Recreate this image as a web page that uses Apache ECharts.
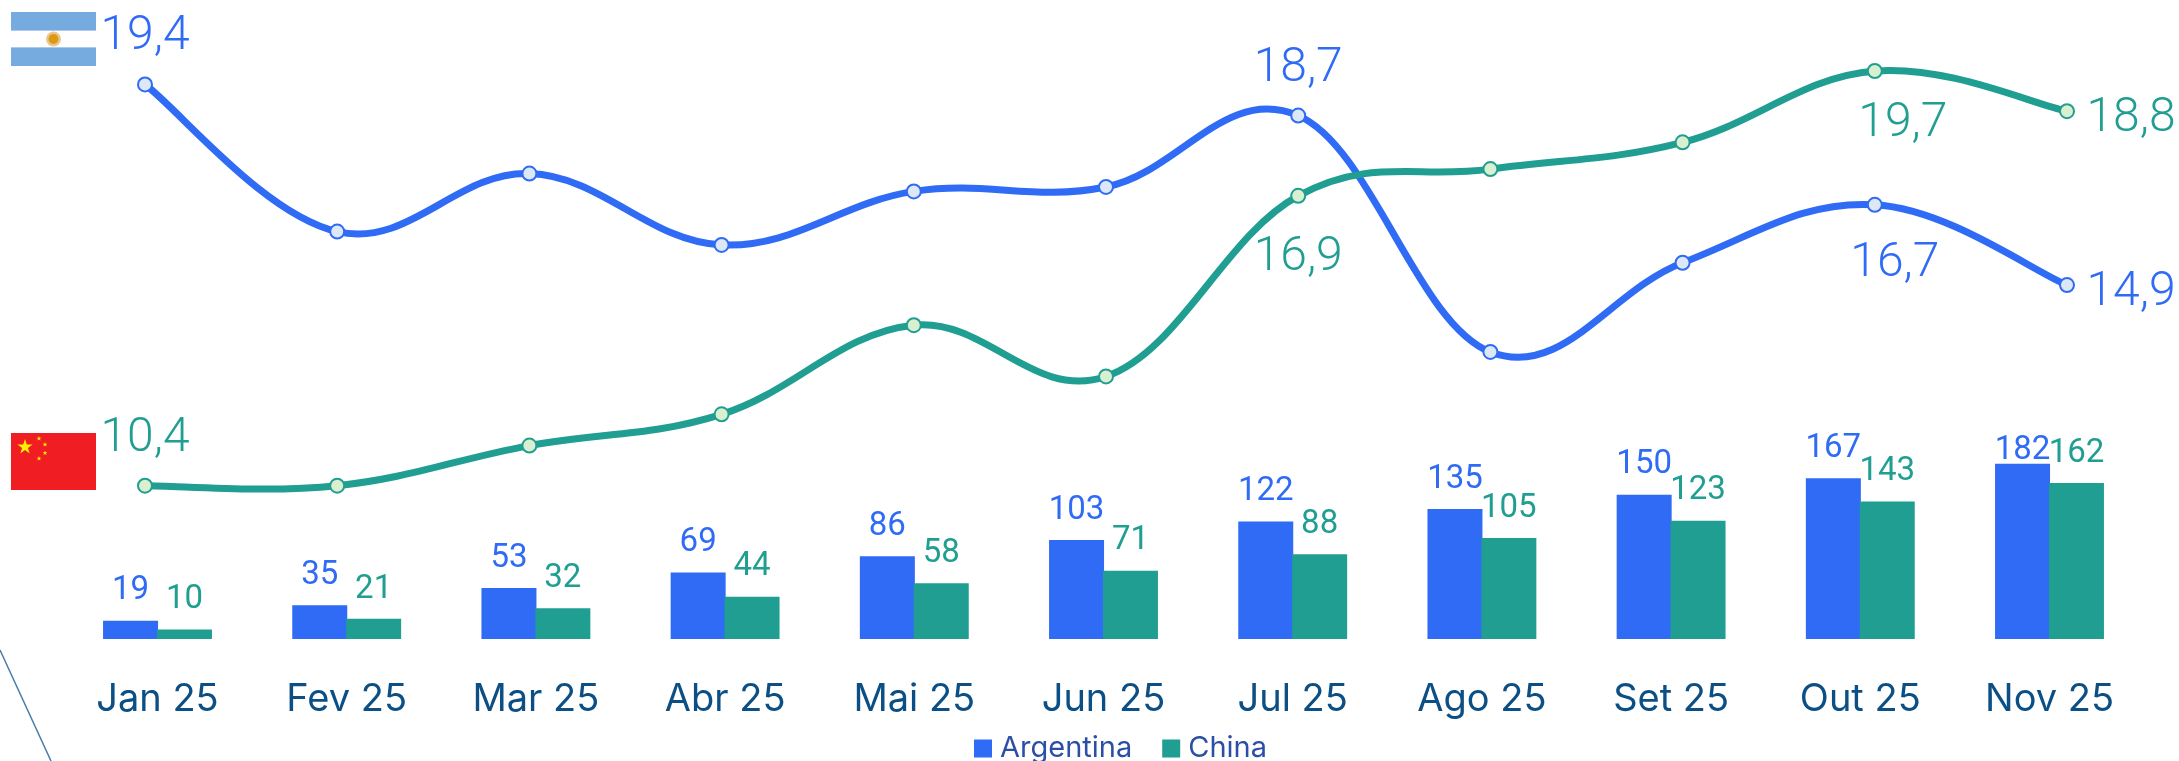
<!DOCTYPE html>
<html>
<head>
<meta charset="utf-8">
<style>html,body{margin:0;padding:0;background:#fff;overflow:hidden}#c{width:2179px;height:761px}</style>
<script src="https://cdn.jsdelivr.net/npm/echarts@6/dist/echarts.min.js"></script>
</head>
<body>
<div id="c"></div>
<script>
const categories = ['Jan 25','Fev 25','Mar 25','Abr 25','Mai 25','Jun 25','Jul 25','Ago 25','Set 25','Out 25','Nov 25'];
const argentinaBars = [19,35,53,69,86,103,122,135,150,167,182];
const chinaBars = [10,21,32,44,58,71,88,105,123,143,162];
const argentinaLine = [19.4,16.1,17.4,15.8,17.0,17.1,18.7,13.4,15.4,16.7,14.9];
const chinaLine = [10.4,10.4,11.3,12.0,14.0,12.85,16.9,17.5,18.1,19.7,18.8];

const BLUE = '#2F6BF5', GREEN = '#209E91';
const TENSION = 0.19;
const argentinaLabelOffsets = {0:[0,-39],6:[0,-39],9:[20,67],10:[64,16]};
const chinaLabelOffsets = {0:[0,-39],6:[0,70],9:[28,61],10:[64,16]};
const barLabelShift = {10:[0,16]};

const fmt = v => v.toFixed(1).replace('.', ',');
function lineData(vals, offsets, color){
  return vals.map((v,i)=> offsets[i] ? {
    value:v,
    label:{show:true,position:'top',distance:0,offset:offsets[i],formatter:()=>fmt(v),
      color,fontFamily:'Roboto',fontWeight:300,fontSize:48,lineHeight:48,align:'center',verticalAlign:'middle'}
  } : v);
}
function star(cx,cy,r,fill){
  const pts=[];
  for(let i=0;i<10;i++){
    const a=-Math.PI/2+i*Math.PI/5, rr=i%2?r*0.382:r;
    pts.push([cx+rr*Math.cos(a),cy+rr*Math.sin(a)]);
  }
  return {type:'polygon',shape:{points:pts},style:{fill},silent:true};
}
const rect=(x,y,w,h,fill)=>({type:'rect',shape:{x,y,width:w,height:h},style:{fill},silent:true});
const circ=(cx,cy,r,fill)=>({type:'circle',shape:{cx,cy,r},style:{fill},silent:true});

const flags=[
  rect(11,12,85,18,'#75ABDF'), rect(11,30,85,1,'#A9CBEC'),
  rect(11,47,85,1,'#A9CBEC'), rect(11,48,85,18,'#75ABDF'),
  circ(53.5,39,7.5,'#EBC68F'), circ(53.5,39,5,'#DB9A14'),
  rect(11,433,85,57,'#F01D23'),
  star(25,447,8,'#FFF200'), star(39,438.5,2.6,'#FFF200'), star(45,444.5,2.6,'#FFF200'),
  star(45,453,2.6,'#FFF200'), star(39,458.5,2.6,'#FFF200'),
  {type:'line',shape:{x1:0,y1:650,x2:51,y2:761},style:{stroke:'#4A7BA8',lineWidth:1.5},silent:true}
];

const chart = echarts.init(document.getElementById('c'),null,{renderer:'canvas'});
const barLabel = color => ({show:true,position:'top',distance:13,color,fontFamily:'Roboto',fontSize:33});
// Spline through the points, positioned by the axes via api.coord
const curveSeries=(name,vals,color)=>({
  name,type:'custom',xAxisIndex:1,yAxisIndex:1,coordinateSystem:'cartesian2d',
  encode:{x:0,y:1},silent:true,z:3,clip:false,
  data:vals.map((v,i)=>[i,v]),
  renderItem(params,api){
    const i=params.dataIndex;
    if(i>=vals.length-1) return null;
    const p=k=>api.coord([Math.max(0,Math.min(vals.length-1,k)),vals[Math.max(0,Math.min(vals.length-1,k))]]);
    const a=p(i-1),b=p(i),c=p(i+1),d=p(i+2);
    return {type:'bezierCurve',
      shape:{x1:b[0],y1:b[1],x2:c[0],y2:c[1],
        cpx1:b[0]+(c[0]-a[0])*TENSION,cpy1:b[1]+(c[1]-a[1])*TENSION,
        cpx2:c[0]-(d[0]-b[0])*TENSION,cpy2:c[1]-(d[1]-b[1])*TENSION},
      style:{fill:null,stroke:color,lineWidth:7,lineCap:'round'}};
  }
});
const pointSeries=(name,vals,offsets,color,fill)=>({
  name,type:'line',xAxisIndex:1,yAxisIndex:1,
  data:lineData(vals,offsets,color),
  symbol:'circle',symbolSize:14,showSymbol:true,
  lineStyle:{color,width:6,opacity:0},
  itemStyle:{color:fill,borderColor:color,borderWidth:2,opacity:1},
  z:4
});
chart.setOption({
  animation:false,
  backgroundColor:'#fff',
  graphic:flags,
  legend:{
    left:974,top:734,itemWidth:18,itemHeight:18,itemGap:30,icon:'rect',
    data:['Argentina','China'],padding:0,
    textStyle:{fontFamily:'Inter',fontSize:29,color:'#2C4FA6',padding:[0,0,0,3]}
  },
  grid:[
    {left:62.9,width:2081.2,top:0,height:639,containLabel:false},
    {left:48.9,width:2114.2,top:1,height:639,containLabel:false}
  ],
  xAxis:[
    {type:'category',gridIndex:0,data:categories,axisLine:{show:false},axisTick:{show:false},
     axisLabel:{color:'#0B4F85',fontFamily:'Inter',fontSize:38,margin:42,interval:0}},
    {type:'category',gridIndex:1,data:categories,show:false}
  ],
  yAxis:[
    {type:'value',gridIndex:0,min:0,max:664,show:false},
    {type:'value',gridIndex:1,min:6.94,max:21.27,show:false}
  ],
  series:[
    {name:'Argentina',type:'bar',xAxisIndex:0,yAxisIndex:0,barWidth:55,barGap:'-2%',
     itemStyle:{color:BLUE},label:barLabel(BLUE),
     data:argentinaBars.map((v,i)=>barLabelShift[i]?{value:v,label:{offset:barLabelShift[i]}}:v)},
    {name:'China',type:'bar',xAxisIndex:0,yAxisIndex:0,barWidth:55,barGap:'-2%',
     itemStyle:{color:GREEN},label:barLabel(GREEN),data:chinaBars},
    curveSeries('Argentina',argentinaLine,BLUE),
    curveSeries('China',chinaLine,GREEN),
    pointSeries('Argentina',argentinaLine,argentinaLabelOffsets,BLUE,'#DCE8F6'),
    pointSeries('China',chinaLine,chinaLabelOffsets,GREEN,'#D9F0D0')
  ]
});
</script>
</body>
</html>
